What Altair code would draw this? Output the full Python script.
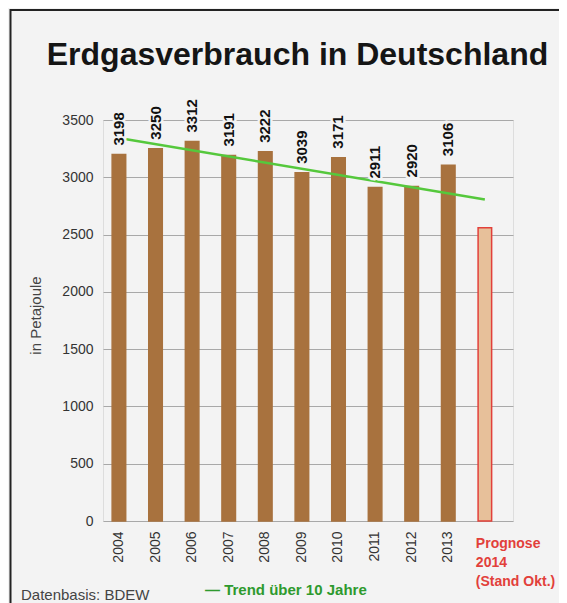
import altair as alt
import pandas as pd

# ---- data ----
categories = ["2004", "2005", "2006", "2007", "2008", "2009", "2010",
              "2011", "2012", "2013", "Prognose 2014"]
values = [3198, 3250, 3312, 3191, 3222, 3039, 3171, 2911, 2920, 3106, 2560]
kinds = ["Ist"] * 10 + ["Prognose"]

trend_categories = ["2004", "Prognose 2014"]
trend_values = [3342, 2807]

y_ticks = [0, 500, 1000, 1500, 2000, 2500, 3000, 3500]
prognose_label = ["Prognose", "2014", "(Stand Okt.)"]

title_text = "Erdgasverbrauch in Deutschland"
source_text = "Datenbasis: BDEW"
trend_text = "\u2014 Trend \u00fcber 10 Jahre"

BG = "#f3f3f3"
FONT = "Liberation Sans"

df = pd.DataFrame({"Jahr": categories, "Wert": values, "Art": kinds})
df_trend = pd.DataFrame({"Jahr": trend_categories, "Wert": trend_values})
df_prog = pd.DataFrame({"Jahr": [categories[-1]], "Label": [prognose_label]})
one = pd.DataFrame({"k": [0]})

x_scale = alt.Scale(domain=categories, paddingInner=0.63, paddingOuter=0.417, align=0.3)
y_scale = alt.Scale(domain=[0, 3500])

x_enc = alt.X("Jahr:N", scale=x_scale, sort=categories,
              axis=alt.Axis(title=None, labelAngle=-90, labelFontSize=14, labelColor="#333",
                            labelFont=FONT, ticks=False, domain=False, labelPadding=10,
                            labelExpr="datum.value == 'Prognose 2014' ? '' : datum.value"))
y_enc = alt.Y("Wert:Q", scale=y_scale,
              axis=alt.Axis(title="in Petajoule", values=y_ticks, format="d", labelFontSize=14,
                            labelColor="#333", labelFont=FONT, ticks=False, domain=False,
                            labelPadding=10, grid=True, gridColor="#a8a8a8", gridWidth=1,
                            titleFontSize=15, titleFont=FONT, titleFontWeight="normal",
                            titleColor="#444", titleX=-60, titleY=195, titleAngle=270,
                            titleAlign="center", titleBaseline="bottom"))

base = alt.Chart(df)

bars = base.mark_bar().encode(
    x=x_enc, y=y_enc,
    color=alt.Color("Art:N", scale=alt.Scale(domain=["Ist", "Prognose"],
                                             range=["#a8723e", "#e7c09a"]), legend=None),
    stroke=alt.Stroke("Art:N", scale=alt.Scale(domain=["Ist", "Prognose"],
                                               range=["#a8723e", "#e2403a"]), legend=None),
    strokeWidth=alt.value(1.5),
)

trend = alt.Chart(df_trend).mark_line(color="#55c83c", strokeWidth=2.5).encode(
    x=alt.X("Jahr:N", sort=categories), y="Wert:Q")

lbl_data = base.transform_filter("datum.Art == 'Ist'")
halo = lbl_data.mark_text(angle=270, align="left", baseline="middle", dx=9, fontSize=15,
                          fontWeight="bold", font=FONT, color=BG, stroke=BG,
                          strokeWidth=5).encode(
    x=alt.X("Jahr:N", sort=categories), y="Wert:Q", text="Wert:Q")
labels = lbl_data.mark_text(angle=270, align="left", baseline="middle", dx=9, fontSize=15,
                            fontWeight="bold", font=FONT, color="#111").encode(
    x=alt.X("Jahr:N", sort=categories), y="Wert:Q", text="Wert:Q")

prog = alt.Chart(df_prog).mark_text(align="left", baseline="alphabetic", dx=-9, fontSize=14,
                                    fontWeight="bold", font=FONT, color="#e2403a",
                                    lineHeight=19).encode(
    x=alt.X("Jahr:N", sort=categories), y=alt.value(428), text="Label")

title = alt.Chart(one).mark_text(align="center", baseline="alphabetic", fontSize=32,
                                 fontWeight="bold", font=FONT, color="#151515").encode(
    x=alt.value(194.5), y=alt.value(-55), text=alt.value(title_text))

source = alt.Chart(one).mark_text(align="left", baseline="alphabetic", fontSize=15,
                                  font=FONT, color="#444").encode(
    x=alt.value(-82), y=alt.value(480), text=alt.value(source_text))

legend_txt = alt.Chart(one).mark_text(align="left", baseline="alphabetic", fontSize=15,
                                      fontWeight="bold", font=FONT, color="#2e9a2e").encode(
    x=alt.value(102), y=alt.value(475), text=alt.value(trend_text))

frame = alt.Chart(one).mark_rect(fill=None, fillOpacity=0, stroke="#222", strokeWidth=2).encode(
    x=alt.value(-92.5), x2=alt.value(480), y=alt.value(-110), y2=alt.value(520))

chart = alt.layer(bars, trend, halo, labels, prog, title, source, legend_txt,
                  frame).properties(
    width=410, height=401,
    autosize=alt.AutoSizeParams(type="none"),
    padding={"left": 95, "top": 112, "right": 46, "bottom": 82},
    background=BG,
).configure_view(stroke=None).configure(font=FONT)

chart.save("out.html", embed_options={"renderer": "svg", "actions": False})
